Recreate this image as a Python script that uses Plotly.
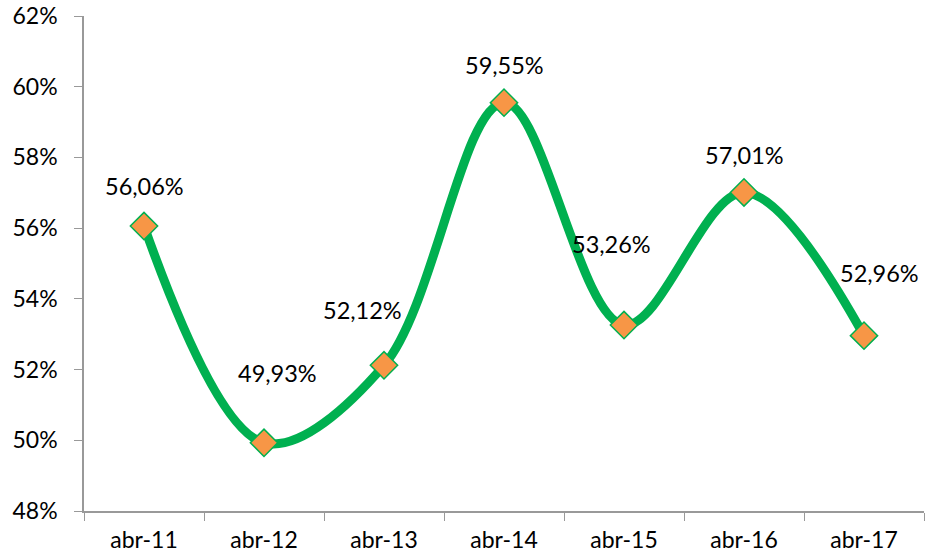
import plotly.graph_objects as go

categories = ["abr-11", "abr-12", "abr-13", "abr-14", "abr-15", "abr-16", "abr-17"]
values = [56.06, 49.93, 52.12, 59.55, 53.26, 57.01, 52.96]
labels = ["56,06%", "49,93%", "52,12%", "59,55%", "53,26%", "57,01%", "52,96%"]
label_dx = [0, 13, -22, 0, -13, 0, 15]
label_dy = [40, 70, 55, 38, 81, 37, 63]
y_ticks = [48, 50, 52, 54, 56, 58, 60, 62]
y_tick_text = ["48%", "50%", "52%", "54%", "56%", "58%", "60%", "62%"]

font = "Lato, Open Sans, sans-serif"
fsize = 23

fig = go.Figure()
fig.add_trace(go.Scatter(
    x=categories, y=values, mode="lines+markers",
    line=dict(color="#00B050", width=9, shape="spline", smoothing=1.0),
    marker=dict(symbol="diamond", size=21, color="#F79646",
                line=dict(color="#00B050", width=1.5)),
    hoverinfo="skip", showlegend=False,
))

for c, v, t, dx, dy in zip(categories, values, labels, label_dx, label_dy):
    fig.add_annotation(x=c, y=v, text=t, showarrow=False, xshift=dx, yshift=dy,
                       font=dict(family=font, size=23.5, color="#000000"))

fig.update_layout(
    width=926, height=557,
    margin=dict(l=84, r=2, t=16, b=46),
    paper_bgcolor="white", plot_bgcolor="white",
    font=dict(family=font, size=fsize, color="#000000"),
)
fig.update_xaxes(
    type="category", range=[-0.5, 6.5], showgrid=False, automargin=False,
    showline=True, linecolor="#999999", linewidth=1.5,
    ticks="outside", ticklen=8, tickcolor="#999999", tickson="boundaries",
    ticklabelstandoff=8,
    tickfont=dict(family=font, size=fsize),
)
fig.update_yaxes(
    range=[48, 62], tickvals=y_ticks, ticktext=y_tick_text, showgrid=False,
    automargin=False,
    showline=True, linecolor="#999999", linewidth=1.5, zeroline=False,
    ticks="outside", ticklen=8, tickcolor="#999999", ticklabelstandoff=12,
    tickfont=dict(family=font, size=fsize),
)

fig.write_html(
    "out.html",
    config={"displayModeBar": False},
    post_script="document.body.style.margin='0px';document.body.style.overflow='hidden';",
)
